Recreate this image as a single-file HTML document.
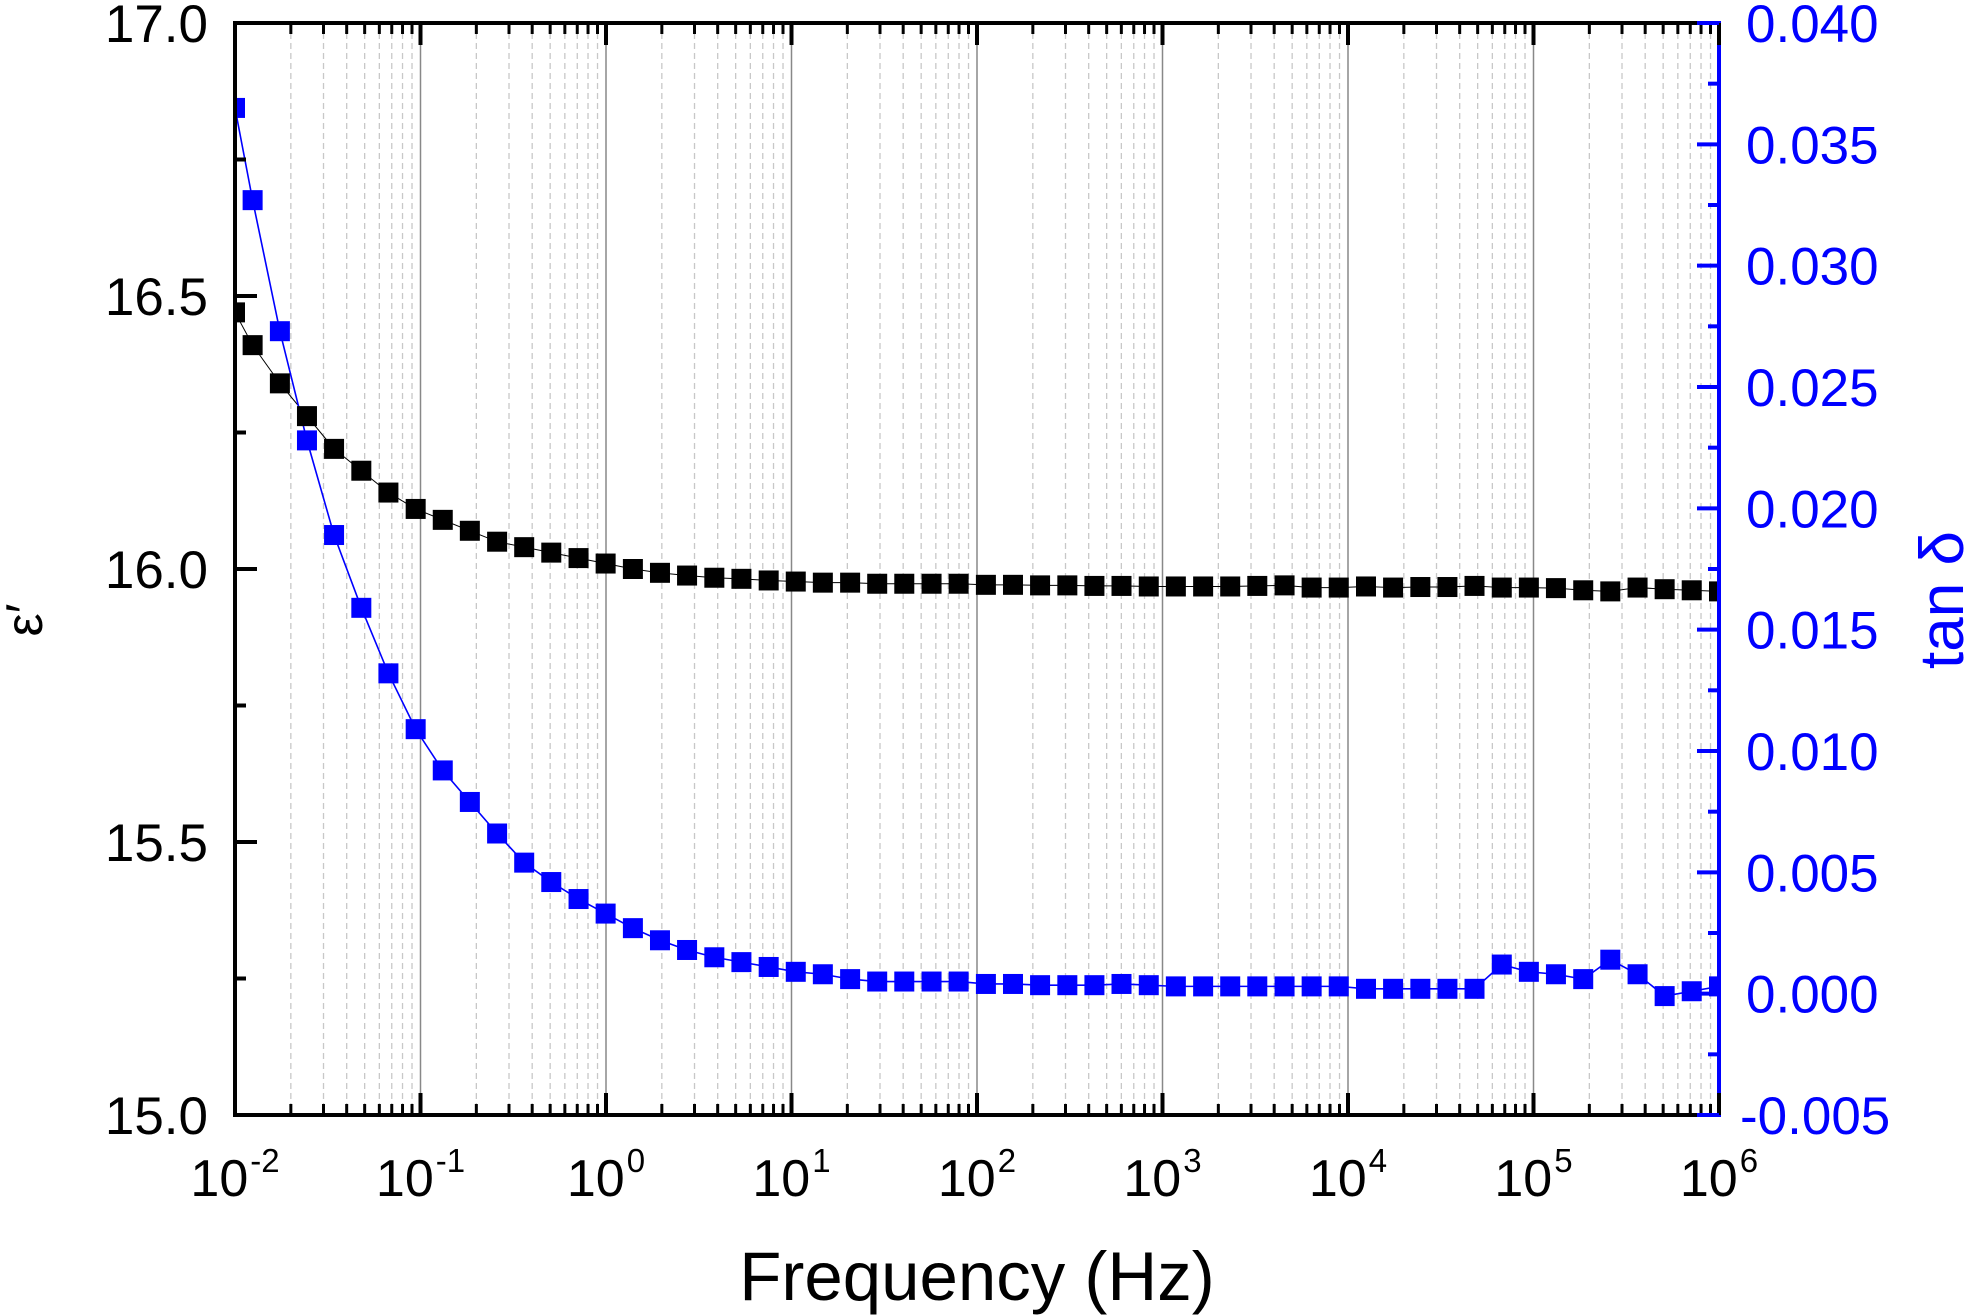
<!DOCTYPE html>
<html><head><meta charset="utf-8"><style>
html,body{margin:0;padding:0;background:#fff;}
svg{display:block;font-family:"Liberation Sans",Arial,sans-serif;}
</style></head><body>
<svg id="chart" width="1980" height="1316" viewBox="0 0 1980 1316" xmlns="http://www.w3.org/2000/svg">
<defs><clipPath id="plotclip"><rect x="235" y="23" width="1484" height="1092"/></clipPath></defs>
<g id="grid"></g>
<g id="series" clip-path="url(#plotclip)"></g>
<g id="axes"></g>
<text x="977" y="1300" font-size="69" text-anchor="middle" fill="#000">Frequency (Hz)</text>
<text transform="translate(42,620) rotate(-90)" font-size="52" text-anchor="middle" fill="#000">ε′</text>
<text transform="translate(1963,600) rotate(-90)" font-size="62" text-anchor="middle" fill="#0000ff">tan δ</text>
</svg>
<script>
const logFreq = [-2.0,-1.905,-1.758,-1.612,-1.466,-1.319,-1.173,-1.026,-0.880,-0.734,-0.587,-0.441,-0.295,-0.148,-0.002,0.145,0.291,0.437,0.584,0.730,0.877,1.023,1.169,1.316,1.462,1.608,1.755,1.901,2.048,2.194,2.340,2.487,2.633,2.779,2.926,3.072,3.219,3.365,3.511,3.658,3.804,3.950,4.097,4.243,4.390,4.536,4.682,4.829,4.975,5.121,5.268,5.414,5.561,5.707,5.853,6.0];
const epsValues = [16.47,16.41,16.34,16.28,16.22,16.18,16.14,16.11,16.09,16.07,16.05,16.04,16.03,16.02,16.01,16.00,15.993,15.988,15.984,15.982,15.979,15.977,15.975,15.975,15.973,15.973,15.973,15.973,15.971,15.971,15.970,15.970,15.969,15.969,15.968,15.968,15.968,15.968,15.969,15.970,15.966,15.966,15.968,15.966,15.967,15.967,15.969,15.966,15.966,15.965,15.961,15.959,15.966,15.963,15.961,15.959];
const tanValues = [0.0365,0.0327,0.0273,0.0228,0.0189,0.0159,0.0132,0.0109,0.0092,0.0079,0.0066,0.0054,0.0046,0.0039,0.0033,0.0027,0.0022,0.0018,0.0015,0.0013,0.0011,0.0009,0.0008,0.0006,0.0005,0.0005,0.0005,0.0005,0.0004,0.0004,0.00035,0.00035,0.00035,0.0004,0.00035,0.0003,0.0003,0.0003,0.0003,0.0003,0.0003,0.0003,0.0002,0.0002,0.0002,0.0002,0.0002,0.0012,0.0009,0.0008,0.0006,0.0014,0.0008,-0.0001,0.0001,0.0003];
const xDecades = [-2,-1,0,1,2,3,4,5,6];
const leftTicks = ["15.0","15.5","16.0","16.5","17.0"];
const rightTicks = ["-0.005","0.000","0.005","0.010","0.015","0.020","0.025","0.030","0.035","0.040"];

const L=235,R=1719,T=23,B=1115;
const NS="http://www.w3.org/2000/svg";
const xs=v=>L+(v+2)/8*(R-L);
const yL=v=>B-(v-15)/2*(B-T);
const yR=v=>B-(v+0.005)/0.045*(B-T);
function mk(tag,attrs,parent){const e=document.createElementNS(NS,tag);for(const k in attrs)e.setAttribute(k,attrs[k]);parent.appendChild(e);return e;}
const grid=document.getElementById('grid'),ser=document.getElementById('series'),ax=document.getElementById('axes');

for(let d=-2;d<6;d++){for(let m=2;m<=9;m++){const x=xs(d+Math.log10(m));
const g=mk('line',{x1:x,x2:x,y1:T,y2:B,stroke:'#c8c8c8','stroke-width':1.3,'stroke-dasharray':'6,4'},grid);

}}
for(let d=-1;d<=5;d++){const x=xs(d);
const g=mk('line',{x1:x,x2:x,y1:T,y2:B,stroke:'#888','stroke-width':1.5},grid);

}

function poly(vals,yf,color,w,name){const p=vals.map((v,i)=>xs(logFreq[i])+','+yf(v)).join(' ');
const l=mk('polyline',{points:p,fill:'none',stroke:color,'stroke-width':w},ser);

}
poly(epsValues,yL,'#000',1,'eps-line');
poly(tanValues,yR,'#0000ff',1.6,'tan-line');
const S=20;
epsValues.forEach((v,i)=>{const r=mk('rect',{x:xs(logFreq[i])-S/2,y:yL(v)-S/2,width:S,height:S,fill:'#000'},ser);

});
tanValues.forEach((v,i)=>{const r=mk('rect',{x:xs(logFreq[i])-S/2,y:yR(v)-S/2,width:S,height:S,fill:'#0000ff'},ser);

});

mk('line',{x1:L,x2:R,y1:T,y2:T,stroke:'#000','stroke-width':4},ax);
mk('line',{x1:L,x2:R,y1:B,y2:B,stroke:'#000','stroke-width':4},ax);
mk('line',{x1:L,x2:L,y1:T-2,y2:B+2,stroke:'#000','stroke-width':4},ax);
const ra=mk('line',{x1:R,x2:R,y1:T-2,y2:B+2,stroke:'#0000ff','stroke-width':4},ax);



xDecades.forEach(d=>{const x=xs(d);
mk('line',{x1:x,x2:x,y1:B,y2:B-22,stroke:'#000','stroke-width':4},ax);
mk('line',{x1:x,x2:x,y1:T,y2:T+22,stroke:'#000','stroke-width':4},ax);
const t=mk('text',{x:x,y:1196,'font-size':52,'text-anchor':'middle',fill:'#000'},ax);


t.textContent='10';
const s=mk('tspan',{dx:2,dy:-24,'font-size':33},t);s.textContent=String(d);
if(d<6){for(let m=2;m<=9;m++){const xm=xs(d+Math.log10(m));
mk('line',{x1:xm,x2:xm,y1:B,y2:B-11,stroke:'#000','stroke-width':3},ax);
mk('line',{x1:xm,x2:xm,y1:T,y2:T+11,stroke:'#000','stroke-width':3},ax);}}});

leftTicks.forEach((lab,i)=>{const v=parseFloat(lab),y=yL(v);
mk('line',{x1:L,x2:L+22,y1:y,y2:y,stroke:'#000','stroke-width':4},ax);
if(i<leftTicks.length-1){const ym=yL(v+0.25);mk('line',{x1:L,x2:L+11,y1:ym,y2:ym,stroke:'#000','stroke-width':4},ax);}
const t=mk('text',{x:208,y:y+19,'font-size':53,'text-anchor':'end',fill:'#000'},ax);


t.textContent=lab;});

rightTicks.forEach((lab,i)=>{const v=parseFloat(lab),y=yR(v);
mk('line',{x1:R,x2:R-22,y1:y,y2:y,stroke:'#0000ff','stroke-width':4},ax);
if(i<rightTicks.length-1){const ym=yR(v+0.0025);mk('line',{x1:R,x2:R-11,y1:ym,y2:ym,stroke:'#0000ff','stroke-width':4},ax);}
const t=mk('text',{x:v<0?1740:1746,y:y+19,'font-size':53,'text-anchor':'start',fill:'#0000ff'},ax);


t.textContent=lab;});
</script>
</body></html>
